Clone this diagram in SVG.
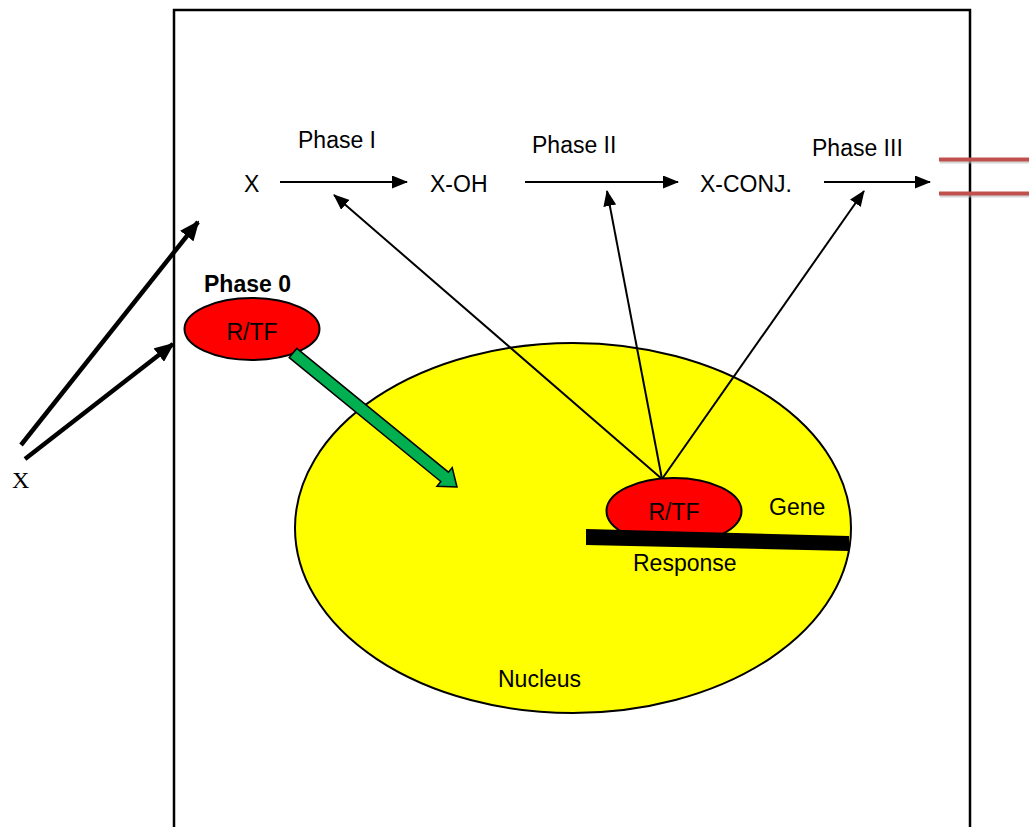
<svg xmlns="http://www.w3.org/2000/svg" width="1029" height="827" viewBox="0 0 1029 827">
  <defs>
    <style>
      .t { font-family: "Liberation Sans", Arial, sans-serif; font-size: 23px; fill: #000; }
      .b { font-weight: bold; }
      .serif { font-family: "Liberation Serif", "Times New Roman", serif; font-size: 24px; }
      .thin { stroke: #000; stroke-width: 2; fill: none; }
      .thick { stroke: #000; stroke-width: 4.5; fill: none; }
      .red { fill: #ff0000; stroke: #000; stroke-width: 2; }
      .barred { stroke: #c0504d; stroke-width: 4; }
      .shadow { stroke: #bbbbbb; stroke-width: 3; opacity: 0.6; }
    </style>
    <marker id="ah" markerUnits="userSpaceOnUse" markerWidth="16" markerHeight="13" refX="15" refY="6.5" orient="auto">
      <path d="M0,0 L16,6.5 L0,13 z" fill="#000"/>
    </marker>
    <marker id="ahBig" markerUnits="userSpaceOnUse" markerWidth="20" markerHeight="17" refX="18" refY="8.5" orient="auto">
      <path d="M0,0 L20,8.5 L0,17 z" fill="#000"/>
    </marker>
  </defs>

  <rect width="1029" height="827" fill="#fff"/>

  <g id="cell">
    <rect x="174" y="10" width="796" height="840" fill="none" stroke="#000" stroke-width="2.5"/>
  </g>

  <g id="nucleus">
    <ellipse cx="573" cy="528" rx="278" ry="185" fill="#ffff00" stroke="#000" stroke-width="2"/>
    <text class="t" x="498" y="687">Nucleus</text>
  </g>

  <g id="connectors">
    <line class="thin" x1="280" y1="182" x2="407" y2="182" marker-end="url(#ah)"/>
    <line class="thin" x1="525" y1="182" x2="678" y2="182" marker-end="url(#ah)"/>
    <line class="thin" x1="824" y1="182" x2="930" y2="182" marker-end="url(#ah)"/>
    <line class="thin" x1="662" y1="479" x2="334" y2="195" marker-end="url(#ah)"/>
    <line class="thin" x1="662" y1="479" x2="607" y2="191" marker-end="url(#ah)"/>
    <line class="thin" x1="662" y1="479" x2="864" y2="191" marker-end="url(#ah)"/>
    <line class="thick" x1="21" y1="445" x2="198" y2="222" marker-end="url(#ahBig)"/>
    <line class="thick" x1="25" y1="459" x2="173" y2="344" marker-end="url(#ahBig)"/>
  </g>

  <g id="efflux-barrier">
    <line class="shadow" x1="940" y1="162" x2="1029" y2="162"/>
    <line class="shadow" x1="940" y1="196" x2="1029" y2="196"/>
    <line class="barred" x1="939" y1="159.5" x2="1029" y2="159.5"/>
    <line class="barred" x1="939" y1="193.5" x2="1029" y2="193.5"/>
  </g>

  <g id="rtf-nuclear">
    <ellipse class="red" cx="674" cy="511" rx="67.5" ry="33"/>
    <text class="t" x="674" y="520" text-anchor="middle">R/TF</text>
  </g>

  <g id="response-element">
    <polygon points="586,529 849,536 849,551 586,545" fill="#000"/>
    <text class="t" x="633" y="571">Response</text>
  </g>

  <g id="gene">
    <text class="t" x="769" y="515">Gene</text>
  </g>

  <g id="rtf-cyto">
    <text class="t b" x="204" y="292">Phase 0</text>
    <ellipse class="red" cx="252" cy="329" rx="67.5" ry="31"/>
    <text class="t" x="252" y="340" text-anchor="middle">R/TF</text>
  </g>

  <g id="translocation">
    <polygon points="289.2,357.6 440.8,481.5 437.0,486.2 457,487 452.2,467.6 448.4,472.2 296.8,348.4" fill="#00b050" stroke="#000" stroke-width="1.5" stroke-linejoin="miter"/>
  </g>

  <g id="x-outside">
    <text class="serif" x="12" y="488">X</text>
  </g>

  <g id="x">
    <text class="t" x="244" y="192">X</text>
  </g>
  <g id="x-oh">
    <text class="t" x="430" y="192">X-OH</text>
  </g>
  <g id="x-conj">
    <text class="t" x="700" y="192">X-CONJ.</text>
  </g>
  <g id="phase-labels">
    <text class="t" x="298" y="148">Phase I</text>
    <text class="t" x="532" y="153">Phase II</text>
    <text class="t" x="812" y="156">Phase III</text>
  </g>
</svg>
